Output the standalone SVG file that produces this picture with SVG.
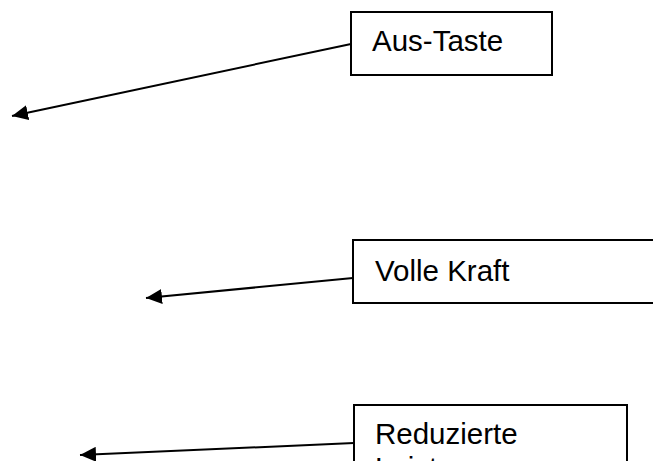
<svg xmlns="http://www.w3.org/2000/svg" width="653" height="461" viewBox="0 0 653 461">
  <style>
    .box { fill: #ffffff; stroke: #000000; stroke-width: 2; }
    .lbl { font-family: "Liberation Sans", Arial, sans-serif; font-size: 29.5px; fill: #000000; }
    .conn { fill: none; stroke: #000000; stroke-width: 2; marker-end: url(#arrow); }
  </style>
  <defs>
    <marker id="arrow" markerUnits="userSpaceOnUse" markerWidth="16" markerHeight="15" refX="16" refY="7.5" orient="auto">
      <path d="M0,0 L16,7.5 L0,15 Z" fill="#000000"/>
    </marker>
  </defs>
  <rect width="653" height="461" fill="#ffffff"/>
  <g id="connectors">
    <line class="conn" x1="351" y1="44" x2="12" y2="116"/>
    <line class="conn" x1="353" y1="278" x2="146" y2="298"/>
    <line class="conn" x1="354" y1="443" x2="80" y2="455"/>
  </g>
  <g id="node-aus-taste">
    <rect class="box" x="351" y="12" width="201" height="63"/>
    <text class="lbl" x="372" y="51">Aus-Taste</text>
  </g>
  <g id="node-volle-kraft">
    <rect class="box" x="353" y="240" width="320" height="63"/>
    <text class="lbl" x="375" y="281">Volle Kraft</text>
  </g>
  <g id="node-reduzierte">
    <rect class="box" x="354" y="405" width="273" height="80"/>
    <text class="lbl" x="375" y="444">Reduzierte</text>
    <text class="lbl" x="375" y="478">Leistung</text>
  </g>
</svg>
